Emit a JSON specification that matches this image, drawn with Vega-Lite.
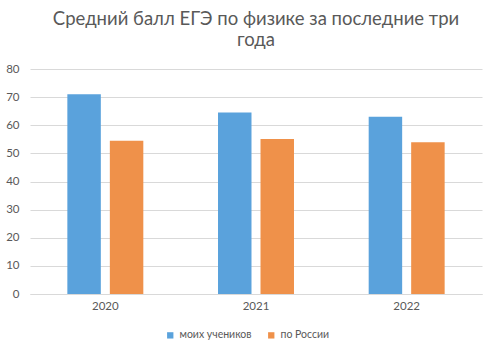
{
  "$schema": "https://vega.github.io/schema/vega-lite/v6.json",
  "autosize": {"type": "none"},
  "padding": {"left": 30, "top": 69, "right": 9, "bottom": 58},
  "width": 452,
  "height": 225,
  "background": "white",
  "title": {
    "text": ["Средний балл ЕГЭ по физике за последние три", "года"],
    "anchor": "middle",
    "frame": "group",
    "font": "Lato",
    "fontSize": 18.5,
    "fontWeight": "normal",
    "color": "#595959",
    "lineHeight": 21,
    "offset": 14
  },
  "data": {
    "values": [
      {"year": "2020", "group": "моих учеников", "score": 71},
      {"year": "2020", "group": "по России", "score": 54.5},
      {"year": "2021", "group": "моих учеников", "score": 64.5},
      {"year": "2021", "group": "по России", "score": 55.1},
      {"year": "2022", "group": "моих учеников", "score": 63},
      {"year": "2022", "group": "по России", "score": 54}
    ]
  },
  "mark": {"type": "bar"},
  "encoding": {
    "x": {
      "field": "year",
      "type": "nominal",
      "scale": {"paddingInner": 0, "paddingOuter": 0},
      "axis": {
        "title": null,
        "labelAngle": 0,
        "ticks": false,
        "domainColor": "#d9d9d9",
        "labelColor": "#595959",
        "labelFont": "Lato",
        "labelFontSize": 11.5,
        "labelPadding": 6
      }
    },
    "xOffset": {
      "field": "group",
      "type": "nominal",
      "scale": {"paddingInner": 0.212, "paddingOuter": 0.879}
    },
    "y": {
      "field": "score",
      "type": "quantitative",
      "scale": {"domain": [0, 80]},
      "axis": {
        "title": null,
        "values": [0, 10, 20, 30, 40, 50, 60, 70, 80],
        "domain": false,
        "ticks": false,
        "gridColor": "#d9d9d9",
        "labelColor": "#595959",
        "labelFont": "Lato",
        "labelFontSize": 11.5,
        "labelPadding": 11
      }
    },
    "color": {
      "field": "group",
      "type": "nominal",
      "scale": {"domain": ["моих учеников", "по России"], "range": ["#5AA2DC", "#EF914A"]},
      "legend": {
        "title": null,
        "orient": "none",
        "direction": "horizontal",
        "legendX": 135,
        "legendY": 261,
        "symbolType": "square",
        "symbolSize": 40,
        "symbolOffset": 0,
        "labelColor": "#595959",
        "labelFont": "Lato",
        "labelFontSize": 10.5,
        "columnPadding": 14,
        "labelOffset": 4
      }
    }
  },
  "config": {"view": {"stroke": null}}
}
